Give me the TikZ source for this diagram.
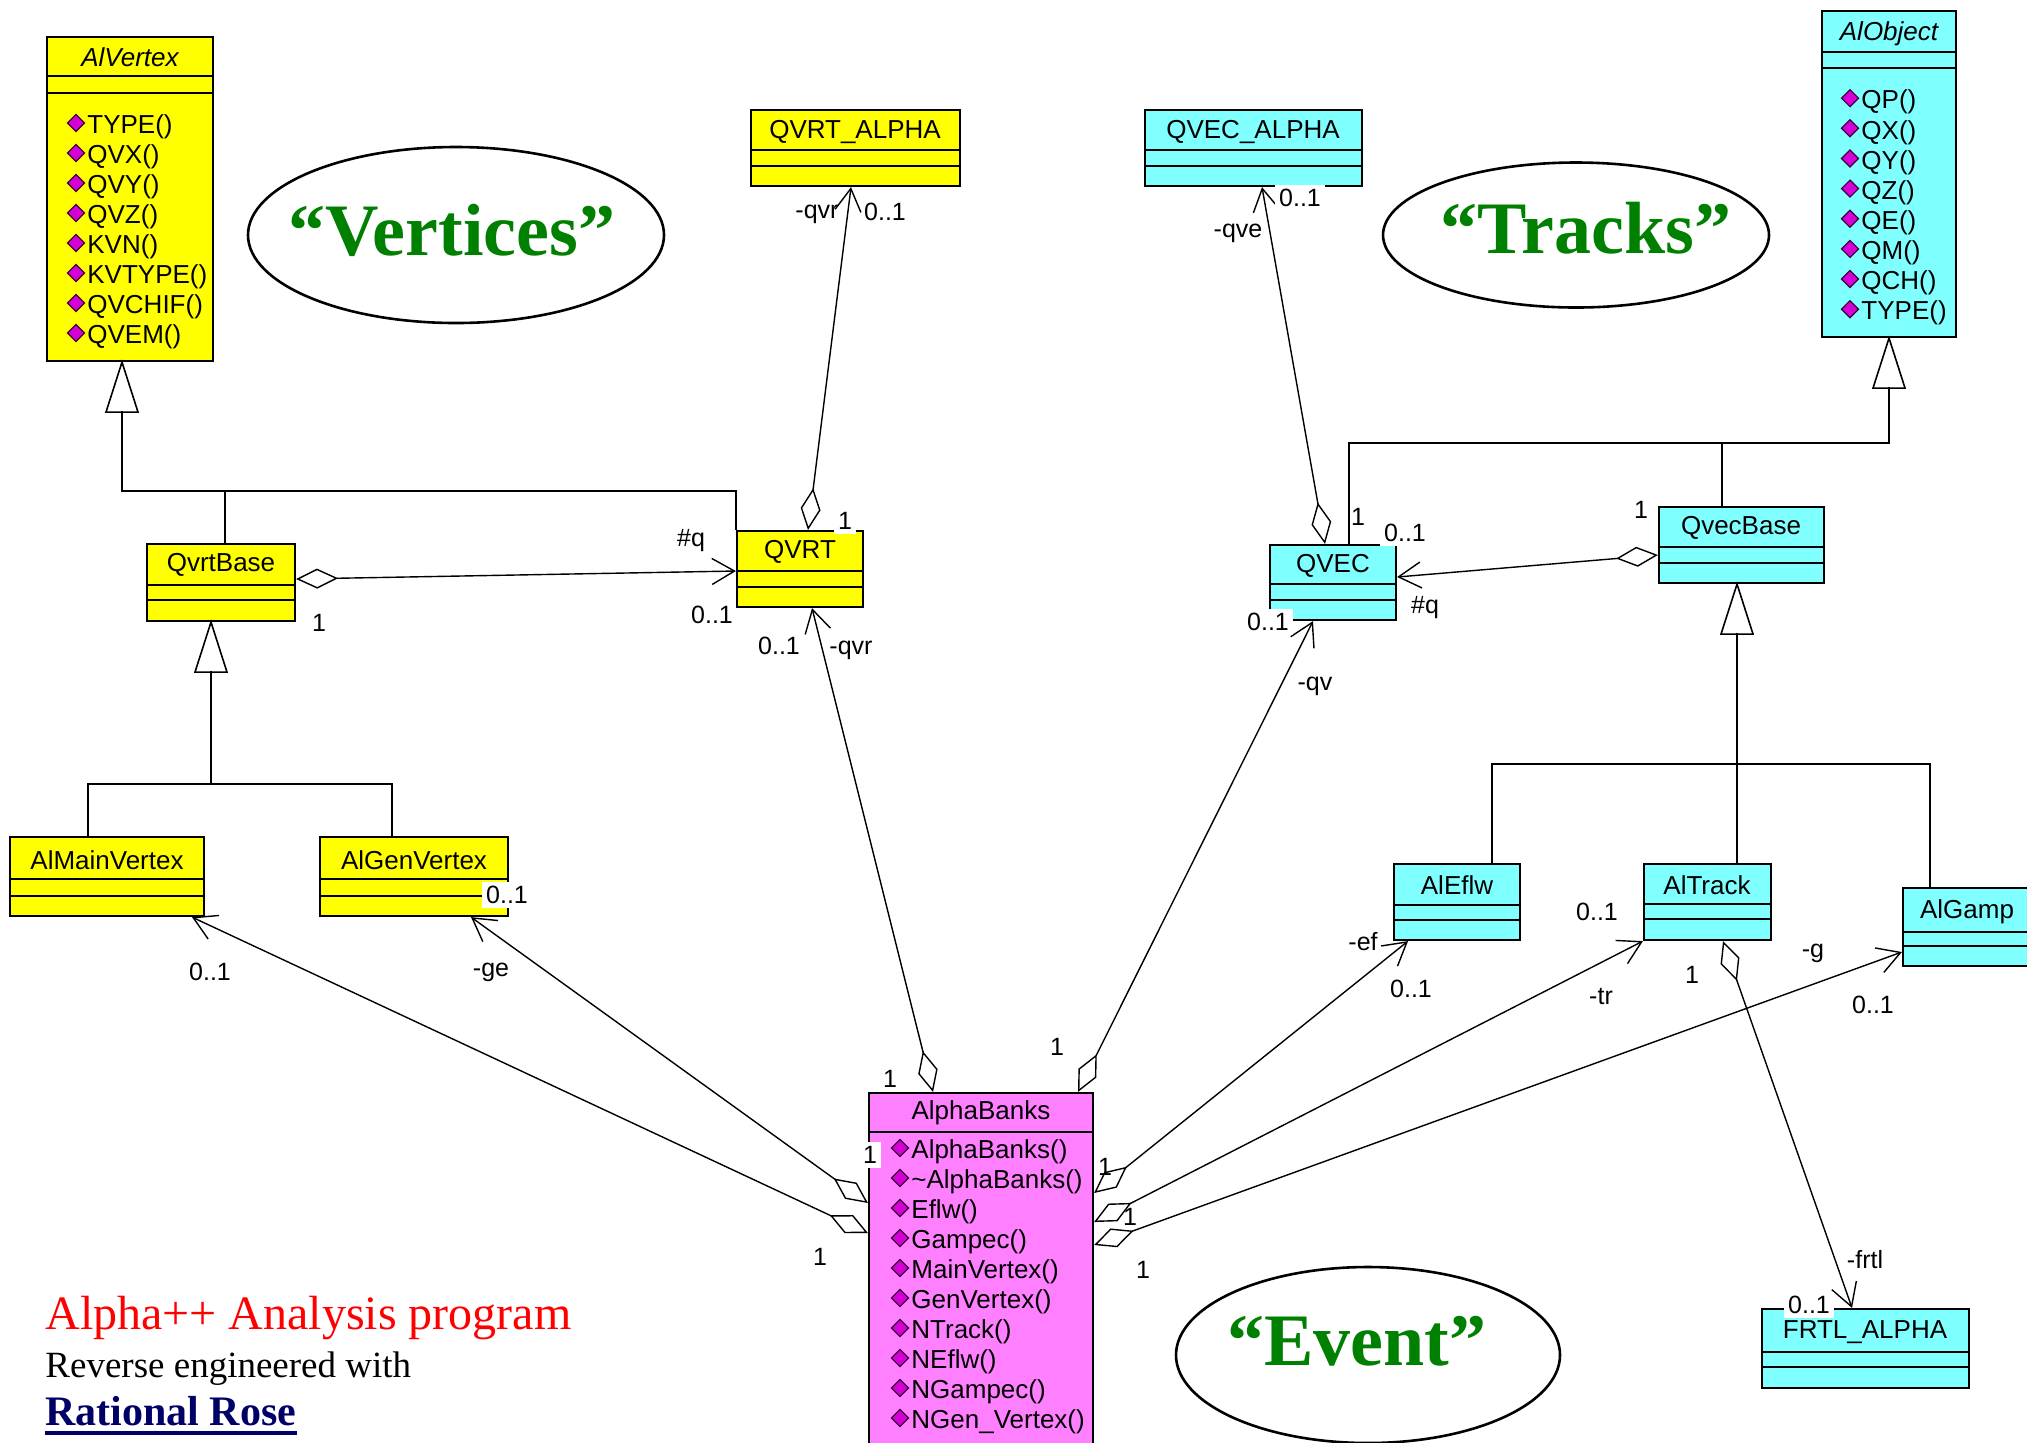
\documentclass[tikz,border=0pt]{standalone}
\usepackage{fontspec}
\setmainfont{Liberation Serif}
\newfontfamily\umlsans{Liberation Sans}
\usetikzlibrary{arrows.meta,fit,calc,shapes.geometric}

\definecolor{umlyellow}{RGB}{255,255,0}
\definecolor{umlcyan}{RGB}{128,255,255}
\definecolor{umlpink}{RGB}{255,128,255}
\definecolor{methfill}{RGB}{214,0,214}
\definecolor{methline}{RGB}{60,0,60}
\definecolor{titlegreen}{RGB}{0,128,0}
\definecolor{navyblue}{RGB}{0,0,102}

\tikzset{
  classbox/.style={draw=black, line width=1.1pt, inner sep=0pt},
  cname/.style={font=\umlsans\fontsize{13}{15}\selectfont, inner sep=0pt},
  cnameit/.style={font=\umlsans\itshape\fontsize{13}{15}\selectfont, inner sep=0pt},
  mtext/.style={font=\umlsans\fontsize{13}{15}\selectfont, inner sep=0pt, anchor=west},
  lbl/.style={font=\umlsans\fontsize{12.5}{14}\selectfont, inner sep=1pt},
  wlbl/.style={lbl, fill=white, inner sep=2pt},
  genline/.style={line width=0.8pt},
  gentri/.style={line width=0.8pt, fill=white},
  assoc/.style={line width=0.7pt, {Diamond[open,length=21pt,width=10pt]}-{Straight Barb[angle=60:13pt]}},
  ellbox/.style={ellipse, draw, line width=1.3pt, inner sep=0pt},
  bigtxt/.style={font=\bfseries\fontsize{37}{40}\selectfont, text=titlegreen, anchor=base, inner sep=0pt},
}

\newcommand\umlclass[8]{%
  \node[classbox, fill=#8, fit={(#2,#3) (#4,#5)}] (#1) {};
  \draw[line width=1.1pt] (#2,#6) -- (#4,#6);
  \draw[line width=1.1pt] (#2,#7) -- (#4,#7);
}
\newcommand\meth[4]{%
  \filldraw[fill=methfill, draw=methline, line width=0.6pt]
    (#2,#3-4) ++(-8.5,0) -- ++(8.5,-8.5) -- ++(8.5,8.5) -- ++(-8.5,8.5) -- cycle;
  \node[mtext] (#1) at (#2+11,#3) {#4};
}

\begin{document}
\begin{tikzpicture}[x=0.5pt, y=-0.5pt]
\useasboundingbox (0,0) rectangle (2027,1442);
\fill[white] (0,0) rectangle (2027,1442);
\clip (0,0) rectangle (2027,1442);

% ---------------- classes ----------------
\umlclass{alvertex}{47}{37}{213}{361}{76}{93}{umlyellow}
\node[cnameit] (alvertexN) at (130,57) {AlVertex};
\foreach \t [count=\i] in {{TYPE()},{QVX()},{QVY()},{QVZ()},{KVN()},{KVTYPE()},{QVCHIF()},{QVEM()}}
  {\meth{avm\i}{76}{97+30*\i}{\t}}

\umlclass{qvrtalpha}{751}{110}{960}{186}{150}{166}{umlyellow}
\node[cname] (qvrtalphaN) at (855,132) {QVRT\_ALPHA};

\umlclass{qvecalpha}{1145}{110}{1362}{186}{150}{166}{umlcyan}
\node[cname] (qvecalphaN) at (1253,132) {QVEC\_ALPHA};

\umlclass{alobject}{1822}{11}{1956}{337}{52}{68}{umlcyan}
\node[cnameit] (alobjectN) at (1889,34) {AlObject};
\foreach \t [count=\i] in {{QP()},{QX()},{QY()},{QZ()},{QE()},{QM()},{QCH()},{TYPE()}}
  {\meth{aom\i}{1850}{72+30.15*\i}{\t}}

\umlclass{qvrtbase}{147}{544}{295}{621}{585}{600}{umlyellow}
\node[cname] (qvrtbaseN) at (221,565) {QvrtBase};

\umlclass{qvrt}{737}{531}{863}{607}{571}{587}{umlyellow}
\node[cname] (qvrtN) at (800,552) {QVRT};

\umlclass{qvec}{1270}{545}{1396}{620}{584}{600}{umlcyan}
\node[cname] (qvecN) at (1333,566) {QVEC};

\umlclass{qvecbase}{1659}{507}{1824}{583}{547}{563}{umlcyan}
\node[cname] (qvecbaseN) at (1741,528) {QvecBase};

\umlclass{almain}{10}{837}{204}{916}{879}{896}{umlyellow}
\node[cname] (almainN) at (107,860) {AlMainVertex};

\umlclass{algen}{320}{837}{508}{916}{879}{896}{umlyellow}
\node[cname] (algenN) at (414,860) {AlGenVertex};

\umlclass{aleflw}{1394}{864}{1520}{940}{905}{920}{umlcyan}
\node[cname] (aleflwN) at (1457,885) {AlEflw};

\umlclass{altrack}{1644}{864}{1771}{940}{904}{919}{umlcyan}
\node[cname] (altrackN) at (1707,885) {AlTrack};

\umlclass{algamp}{1903}{888}{2045}{966}{932}{946}{umlcyan}
\node[cname] (algampN) at (1967,912) {AlGamp};

\umlclass{frtl}{1762}{1309}{1969}{1388}{1352}{1367}{umlcyan}
\node[cname] (frtlN) at (1865,1332) {FRTL\_ALPHA};

\node[classbox, fill=umlpink, fit={(869,1093) (1093,1470)}] (ab) {};
\draw[line width=1.1pt] (869,1132) -- (1093,1132);
\node[cname] (abN) at (981,1113) {AlphaBanks};
\foreach \t [count=\i] in {{AlphaBanks()},{\textasciitilde AlphaBanks()},{Eflw()},{Gampec()},{MainVertex()},{GenVertex()},{NTrack()},{NEflw()},{NGampec()},{NGen\_Vertex()}}
  {\meth{abm\i}{900}{1122+30*\i}{\t}}

% ---------------- generalisations ----------------
% AlVertex
\draw[gentri] (122,0 |- alvertex.south) -- ++(-16,50) -- ++(32,0) -- cycle;
\coordinate (jA) at (122,491);
\draw[genline] (122,411) -- (jA) -| (qvrt.north west);
\draw[genline] (225,0 |- qvrtbase.north) -- (225,0 |- jA);
% QvrtBase
\draw[gentri] (211,0 |- qvrtbase.south) -- ++(-16,50) -- ++(32,0) -- cycle;
\coordinate (jB) at (211,784);
\draw[genline] (211,671) -- (jB);
\draw[genline] (88,0 |- almain.north) |- (jB) -| (392,0 |- algen.north);
% AlObject
\draw[gentri] (1889,0 |- alobject.south) -- ++(-16,50) -- ++(32,0) -- cycle;
\coordinate (jC) at (1889,443);
\draw[genline] (1889,387) -- (jC) -| (1349,0 |- qvec.north);
\draw[genline] (1722,0 |- qvecbase.north) -- (1722,0 |- jC);
% QvecBase
\draw[gentri] (1737,0 |- qvecbase.south) -- ++(-16,50) -- ++(32,0) -- cycle;
\coordinate (jD) at (1737,764);
\draw[genline] (1737,633) -- (jD);
\draw[genline] (1492,0 |- aleflw.north) |- (jD) -| (1930,0 |- algamp.north);
\draw[genline] (jD) -- (1737,0 |- altrack.north);

% ---------------- associations ----------------
\draw[assoc] (qvrtbase.east |- 0,579) -- (qvrt.west |- 0,571);
\draw[assoc] (808,0 |- qvrt.north) -- (851,0 |- qvrtalpha.south);
\draw[assoc] (1325,0 |- qvec.north) -- (1262,0 |- qvecalpha.south);
\draw[assoc] (qvecbase.west |- 0,555) -- (qvec.east |- 0,577);
\draw[assoc] (933,0 |- ab.north) -- (812,0 |- qvrt.south);
\draw[assoc] (1078,0 |- ab.north) -- (1313,0 |- qvec.south);
\draw[assoc] (ab.west |- 0,1233) -- (192,0 |- almain.south);
\draw[assoc] (ab.west |- 0,1203) -- (471,0 |- algen.south);
\draw[assoc] (ab.east |- 0,1193) -- (1408,0 |- aleflw.south);
\draw[assoc] (ab.east |- 0,1222) -- (altrack.south west);
\draw[assoc] (ab.east |- 0,1245) -- (algamp.west |- 0,952);
\draw[assoc] (1723,0 |- altrack.south) -- (1852,0 |- frtl.north);

% ---------------- labels ----------------
\node[lbl] (L1) at (319,623) {1};
\node[lbl] (L2) at (691,541) {\#q};
\node[lbl] (L3) at (712,615) {0..1};
\node[wlbl] (L4) at (845,521) {1};
\node[lbl] (L5) at (817,214) {-qvr};
\node[lbl] (L6) at (885,212) {0..1};
\node[lbl] (L7) at (779,646) {0..1};
\node[lbl] (L8) at (851,650) {-qvr};
\node[wlbl] (L9) at (1300,198) {0..1};
\node[lbl] (L10) at (1238,233) {-qve};
\node[lbl] (L11) at (1358,517) {1};
\node[wlbl] (L12) at (1405,533) {0..1};
\node[lbl] (L13) at (1425,608) {\#q};
\node[lbl] (L14) at (1641,510) {1};
\node[wlbl] (L15) at (1268,622) {0..1};
\node[lbl] (L16) at (1315,686) {-qv};
\node[wlbl] (L17) at (507,895) {0..1};
\node[lbl] (L18) at (210,972) {0..1};
\node[lbl] (L19) at (491,972) {-ge};
\node[wlbl] (L20) at (890,1079) {1};
\node[lbl] (L21) at (1057,1047) {1};
\node[wlbl] (L22) at (870,1155) {1};
\node[lbl] (L23) at (820,1257) {1};
\node[lbl] (L24) at (1105,1167) {1};
\node[lbl] (L25) at (1130,1217) {1};
\node[lbl] (L26) at (1143,1270) {1};
\node[lbl] (L27) at (1363,942) {-ef};
\node[lbl] (L28) at (1411,989) {0..1};
\node[lbl] (L29) at (1597,912) {0..1};
\node[lbl] (L30) at (1601,996) {-tr};
\node[lbl] (L31) at (1692,975) {1};
\node[lbl] (L32) at (1813,953) {-g};
\node[lbl] (L33) at (1873,1005) {0..1};
\node[lbl] (L34) at (1865,1260) {-frtl};
\node[wlbl] (L35) at (1809,1305) {0..1};

% ---------------- ellipses ----------------
\node[ellbox, minimum width=208pt, minimum height=88pt] (vertE) at (456,235) {};
\node[bigtxt] (vertT) at (452,255) {“Vertices”};
\node[ellbox, minimum width=193pt, minimum height=72.5pt] (trackE) at (1576,235) {};
\node[bigtxt] (trackT) at (1586,253) {“Tracks”};
\node[ellbox, minimum width=192pt, minimum height=88pt] (eventE) at (1368,1355) {};
\node[bigtxt] (eventT) at (1357,1365) {“Event”};

% ---------------- footer text ----------------
\node[anchor=base west, inner sep=0pt, text=red, font=\fontsize{24}{28}\selectfont] (t1) at (45,1329) {Alpha++ Analysis program};
\node[anchor=base west, inner sep=0pt, font=\fontsize{18.5}{22}\selectfont] (t2) at (45,1377) {Reverse engineered with};
\node[anchor=base west, inner sep=0pt, text=navyblue, font=\bfseries\fontsize{21}{25}\selectfont] (t3) at (45,1425) {Rational Rose};
\draw[navyblue, line width=1.6pt] ($(t3.base west)+(0,8)$) -- ($(t3.base east)+(0,8)$);
\end{tikzpicture}
\end{document}
